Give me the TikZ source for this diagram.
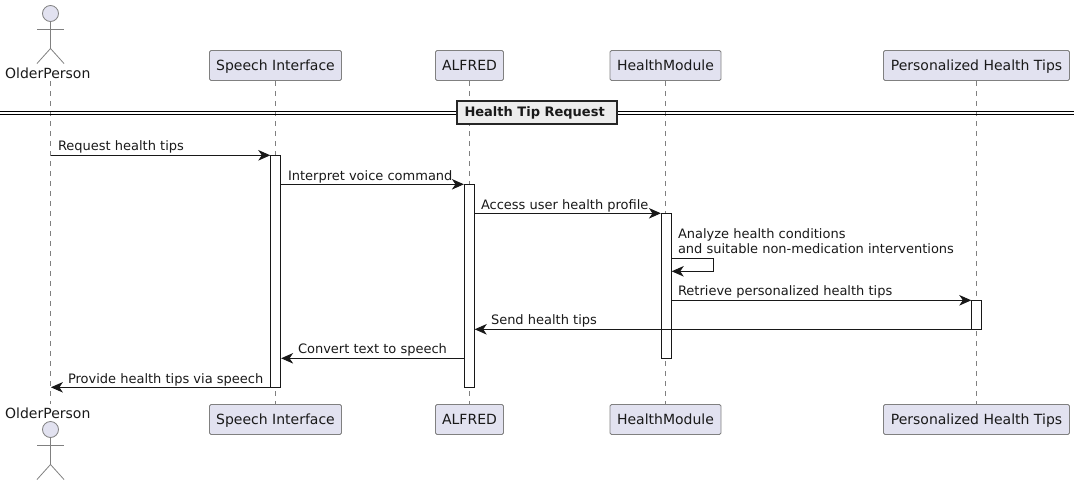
\documentclass[tikz,border=0pt]{standalone}
\usepackage{fontspec}
\setmainfont{DejaVu Sans}
\usetikzlibrary{arrows.meta}
\definecolor{pfill}{HTML}{E2E2F0}
\definecolor{pline}{HTML}{181818}
\definecolor{lgray}{HTML}{808080}
\tikzset{
  x=1pt,y=-1pt,
  every node/.style={font=\fontsize{13}{14.5}\selectfont,text=black!90,inner sep=0pt,outer sep=0pt},
  part/.style={draw=lgray,fill=pfill,rounded corners=1.5pt,line width=.8pt,minimum height=30pt,anchor=center,font=\fontsize{14}{16}\selectfont,text height=12pt,text depth=3pt},
  partlow/.style={part,text height=12.8pt,text depth=2.2pt},
  actorname/.style={font=\fontsize{14}{16}\selectfont},
  life/.style={draw=lgray,line width=.7pt,dash pattern=on 5pt off 5pt},
  bar/.style={draw=pline,fill=white,line width=1pt,anchor=north,minimum width=10pt},
  msg/.style={draw=pline,line width=1pt,shorten >=.4pt,-{Stealth[length=12pt,width=10.5pt,inset=3.5pt,fill=pline]}},
  lab/.style={anchor=base west},
  stick/.style={draw=lgray,line width=.8pt},
  divline/.style={draw=black,line width=1pt},
}
\newcommand{\stickman}[2]{%
  \draw[stick,fill=pfill] (#1,#2) circle (8pt);
  \draw[stick] (#1,#2+8) -- (#1,#2+35);
  \draw[stick] (#1-13.5,#2+16) -- (#1+13.5,#2+16);
  \draw[stick] (#1-13.5,#2+50) -- (#1,#2+35) -- (#1+13.5,#2+50);
}
\begin{document}
\begin{tikzpicture}
\useasboundingbox (0,0) rectangle (1080,485);
% lifelines
\coordinate (l1t) at (50.5,81); \coordinate (l1b) at (50.5,404);
\coordinate (l2t) at (275.3,81); \coordinate (l2b) at (275.3,404);
\coordinate (l3t) at (469.3,81); \coordinate (l3b) at (469.3,404);
\coordinate (l4t) at (665.3,81); \coordinate (l4b) at (665.3,404);
\coordinate (l5t) at (976.3,81); \coordinate (l5b) at (976.3,404);
\foreach \n in {1,...,5} \draw[life] (l\n t) -- (l\n b);
% actors
\stickman{50.5}{13.5}
\stickman{50.5}{429.5}
\node[actorname] (a1) at (47.8,73) {OlderPerson};
\node[actorname] (a2) at (47.8,413) {OlderPerson};
% participants
\node[part,minimum width=132pt] (s1) at (275.5,65.5) {Speech Interface};
\node[part,minimum width=68pt] (f1) at (469.5,65.5) {ALFRED};
\node[part,minimum width=111pt] (h1) at (665.5,65.5) {HealthModule};
\node[part,minimum width=186pt] (p1) at (976.5,65.5) {Personalized Health Tips};
\node[partlow,minimum width=132pt] (s2) at (275.5,419.5) {Speech Interface};
\node[partlow,minimum width=68pt] (f2) at (469.5,419.5) {ALFRED};
\node[partlow,minimum width=111pt] (h2) at (665.5,419.5) {HealthModule};
\node[partlow,minimum width=186pt] (p2) at (976.5,419.5) {Personalized Health Tips};
% activation bars
\node[bar,minimum height=232pt] (bs) at (275.7,155.3) {};
\node[bar,minimum height=203pt] (bf) at (469.3,184.3) {};
\node[bar,minimum height=145pt] (bh) at (666.3,213.3) {};
\node[bar,minimum height=29pt] (bp) at (976.7,300.3) {};
% divider
\coordinate (dl1) at (0,111.3); \coordinate (dr1) at (1074,111.3);
\coordinate (dl2) at (0,114); \coordinate (dr2) at (1074,114);
\draw[divline] (dl1) -- (dr1);
\draw[divline] (dl2) -- (dr2);
\node[draw=black!85,line width=1.8pt,fill=black!7,minimum width=160pt,minimum height=23pt,anchor=west] (dv) at (457,112.8) {};
\node[font=\fontsize{13}{14.5}\selectfont\bfseries,anchor=west] (dvt) at (464.5,112.5) {Health Tip Request};
% messages
\coordinate (o1) at (l1t |- 0,155.3);
\draw[msg] (o1) -- (bs.north west);
\node[lab] (t1) at (58,150) {Request health tips};
\coordinate (s2o) at (bs.east |- 0,184.3);
\draw[msg] (s2o) -- (bf.north west);
\node[lab] (t2) at (288,180) {Interpret voice command};
\coordinate (s3o) at (bf.east |- 0,213.3);
\draw[msg] (s3o) -- (bh.north west);
\node[lab] (t3) at (481,209) {Access user health profile};
\coordinate (s4a) at (bh.east |- 0,258.3);
\coordinate (s4b) at (713.3,258.3);
\coordinate (s4c) at (713.3,271.3);
\coordinate (s4d) at (bh.east |- 0,271.3);
\draw[msg] (s4a) -- (s4b) -- (s4c) -- (s4d);
\node[lab] (t4) at (678,238) {Analyze health conditions};
\node[lab] (t4b) at (678,253) {and suitable non-medication interventions};
\coordinate (s5o) at (bh.east |- 0,300.3);
\draw[msg] (s5o) -- (bp.north west);
\node[lab] (t5) at (678,295) {Retrieve personalized health tips};
\coordinate (s6o) at (bp.south west);
\coordinate (s6e) at (bf.east |- bp.south);
\draw[msg] (s6o) -- (s6e);
\node[lab] (t6) at (491,324) {Send health tips};
\coordinate (s7o) at (bf.west |- 0,358.3);
\coordinate (s7e) at (bs.east |- 0,358.3);
\draw[msg] (s7o) -- (s7e);
\node[lab] (t7) at (298,353) {Convert text to speech};
\coordinate (s8e) at (50.5,387.3);
\draw[msg] (bs.south west) -- (s8e);
\node[lab] (t8) at (68,383) {Provide health tips via speech};
\end{tikzpicture}
\end{document}
